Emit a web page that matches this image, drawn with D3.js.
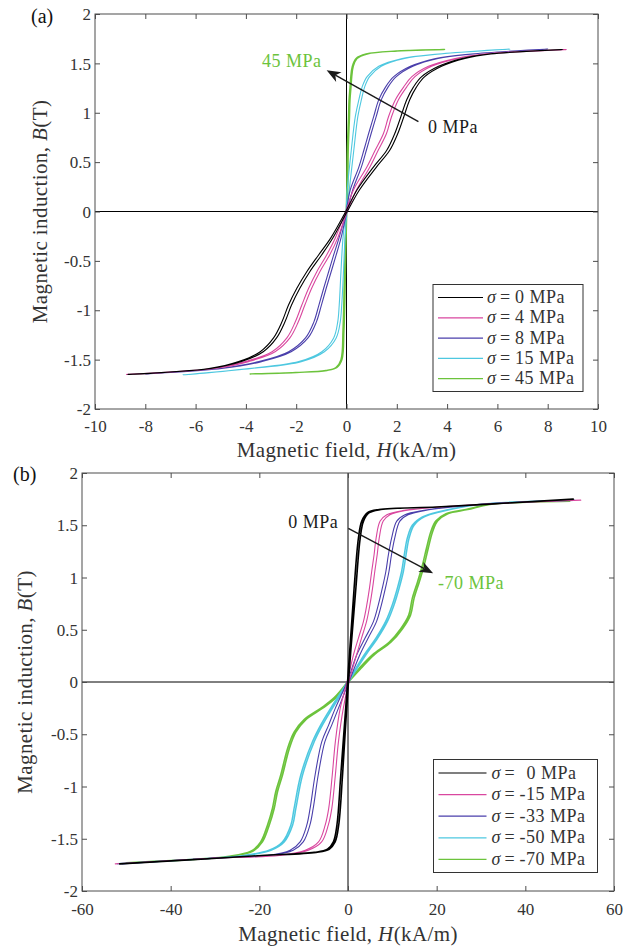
<!DOCTYPE html>
<html>
<head>
<meta charset="utf-8">
<script src="https://cdn.jsdelivr.net/npm/d3@7"></script>
<style>
  body { margin: 0; background: #fff; }
  svg { display: block; }
</style>
</head>
<body>
<svg id="chart" width="636" height="948"></svg>
<script>
// ---- data ----
const colors = ["#000000", "#d9479f", "#4a3fab", "#4ec8e0", "#6cc33c"];
const aLabels = ["0", "4", "8", "15", "45"];
const bLabels = ["0", "-15", "-33", "-50", "-70"];
const aXTicks = [-10, -8, -6, -4, -2, 0, 2, 4, 6, 8, 10];
const bXTicks = [-60, -40, -20, 0, 20, 40, 60];
const yTicks = [-2, -1.5, -1, -0.5, 0, 0.5, 1, 1.5, 2];

// panel (a): B levels (T) and H (kA/m) of the ascending / descending branches
const aB = [
  [-1.65, -1.59, -1.52, -1.42, -1.28, -1.12, -0.95, -0.78, -0.61, -0.44, -0.27, 0, 0.22, 0.45, 0.62, 0.79, 0.96, 1.13, 1.26, 1.365, 1.47, 1.55, 1.595, 1.64],
  [-1.65, -1.59, -1.52, -1.42, -1.28, -1.12, -0.95, -0.78, -0.61, -0.44, -0.27, 0, 0.22, 0.45, 0.62, 0.79, 0.96, 1.13, 1.26, 1.365, 1.47, 1.55, 1.595, 1.64],
  [-1.645, -1.59, -1.52, -1.42, -1.28, -1.12, -0.95, -0.78, -0.61, -0.44, -0.27, 0, 0.22, 0.45, 0.62, 0.79, 0.96, 1.13, 1.26, 1.365, 1.47, 1.55, 1.595, 1.645],
  [-1.655, -1.59, -1.52, -1.42, -1.28, -1.12, -0.95, -0.61, -0.27, 0, 0.22, 0.62, 0.96, 1.13, 1.26, 1.365, 1.47, 1.55, 1.595, 1.645],
  [-1.645, -1.63, -1.61, -1.58, -1.5, -1.2, -0.6, 0, 0.22, 0.62, 0.96, 1.13, 1.26, 1.365, 1.47, 1.55, 1.595, 1.625, 1.64]
];
const aUp = [
  [-8.7, -5.39, -4.17, -3.31, -2.78, -2.45, -2.19, -1.86, -1.46, -0.99, -0.55, 0.03, 0.52, 1.19, 1.72, 2.04, 2.28, 2.51, 2.78, 3.11, 3.78, 4.71, 5.74, 8.6],
  [-8.75, -5.26, -3.90, -2.84, -2.25, -1.92, -1.66, -1.39, -1.06, -0.67, -0.35, 0.03, 0.40, 0.93, 1.26, 1.59, 1.79, 2.06, 2.39, 2.72, 3.38, 4.44, 5.55, 8.75],
  [-8.0, -4.96, -3.38, -2.20, -1.53, -1.20, -1.00, -0.81, -0.61, -0.41, -0.22, 0.02, 0.25, 0.59, 0.79, 0.98, 1.18, 1.38, 1.65, 1.98, 2.64, 3.64, 5.04, 8.0],
  [-6.5, -3.78, -1.80, -0.88, -0.41, -0.25, -0.19, -0.12, -0.06, 0.02, 0.11, 0.29, 0.45, 0.59, 0.72, 0.92, 1.38, 2.31, 3.74, 6.5],
  [-3.83, -1.98, -0.78, -0.38, -0.18, -0.10, -0.04, 0.01, 0.05, 0.07, 0.12, 0.14, 0.18, 0.21, 0.27, 0.42, 0.82, 2.02, 3.9]
];
const aDn = [
  [-8.7, -5.47, -4.29, -3.43, -2.90, -2.57, -2.31, -1.98, -1.58, -1.11, -0.63, -0.03, 0.42, 1.07, 1.60, 1.92, 2.16, 2.39, 2.66, 2.99, 3.66, 4.59, 5.66, 8.6],
  [-8.75, -5.34, -4.02, -2.96, -2.37, -2.04, -1.78, -1.51, -1.18, -0.79, -0.45, -0.03, 0.28, 0.81, 1.14, 1.47, 1.67, 1.94, 2.27, 2.60, 3.26, 4.32, 5.45, 8.75],
  [-8.0, -5.04, -3.48, -2.30, -1.63, -1.30, -1.10, -0.91, -0.71, -0.51, -0.30, -0.02, 0.15, 0.49, 0.69, 0.88, 1.08, 1.28, 1.55, 1.88, 2.54, 3.54, 4.96, 8.0],
  [-6.5, -3.88, -1.90, -0.98, -0.51, -0.35, -0.29, -0.22, -0.14, -0.02, 0.03, 0.19, 0.35, 0.49, 0.62, 0.82, 1.28, 2.21, 3.66, 6.5],
  [-3.83, -2.02, -0.82, -0.42, -0.22, -0.14, -0.08, -0.01, 0.01, 0.03, 0.08, 0.10, 0.14, 0.17, 0.23, 0.38, 0.78, 1.98, 3.9]
];

// panel (b)
const bB = [
  [-1.74, -1.70, -1.66, -1.63, -1.60, -1.53, -1.37, -0.89, 0, 0.9, 1.38, 1.54, 1.62, 1.65, 1.675, 1.71, 1.75],
  [-1.74, -1.685, -1.66, -1.61, -1.53, -1.37, -1.21, -0.89, -0.57, -0.25, 0, 0.26, 0.42, 0.58, 0.74, 0.9, 1.06, 1.22, 1.38, 1.54, 1.6, 1.64, 1.70, 1.74],
  [-1.74, -1.685, -1.66, -1.61, -1.53, -1.37, -1.21, -0.89, -0.57, -0.41, -0.25, 0, 0.26, 0.42, 0.58, 0.74, 0.9, 1.06, 1.22, 1.38, 1.54, 1.6, 1.64, 1.70, 1.74],
  [-1.74, -1.685, -1.66, -1.61, -1.53, -1.37, -1.21, -0.89, -0.57, -0.41, -0.25, 0, 0.26, 0.42, 0.58, 0.74, 0.9, 1.06, 1.22, 1.38, 1.5, 1.58, 1.63, 1.70, 1.74],
  [-1.73, -1.69, -1.67, -1.62, -1.53, -1.37, -1.21, -1.05, -0.89, -0.64, -0.48, -0.36, -0.25, -0.15, 0, 0.13, 0.26, 0.38, 0.51, 0.64, 0.8, 0.96, 1.12, 1.28, 1.44, 1.54, 1.61, 1.65, 1.70, 1.73]
];
const bUp = [
  [-51.5, -35, -19.5, -7.2, -4.24, -2.9, -2.1, -1.23, 0.1, 1.78, 2.76, 3.5, 4.8, 7.4, 20, 35, 50.8],
  [-52.5, -30, -15.5, -8.95, -5.95, -4.45, -3.65, -2.85, -2.15, -1.05, 0.2, 1.93, 3.05, 4.19, 4.95, 5.55, 6.05, 6.59, 7.05, 7.95, 9.45, 12.7, 30, 52.5],
  [-51, -30, -17.8, -12.35, -10.1, -8.6, -7.85, -6.72, -5.21, -3.65, -2.15, 0.2, 2.68, 4.55, 6.45, 7.55, 8.45, 9.25, 9.82, 10.55, 11.7, 13.55, 17.2, 30, 51],
  [-52, -30, -23.0, -17.4, -14.4, -12.5, -11.76, -10.25, -7.6, -5.74, -3.5, 0.1, 4.04, 6.7, 8.9, 10.4, 11.55, 12.5, 13.1, 13.8, 14.9, 17.2, 20.9, 30, 51],
  [-50, -32, -26.8, -21.5, -19.3, -17.77, -16.65, -15.9, -14.77, -13.26, -11.76, -9.5, -5.7, -2.7, 0.1, 2.9, 5.9, 9.67, 12.3, 14.1, 14.9, 16.1, 17.2, 18.1, 19.1, 20.2, 22.5, 27.0, 32, 50]
];
const bDn = [
  [-51.5, -35, -19.5, -7.6, -4.64, -3.3, -2.5, -1.63, -0.1, 1.38, 2.36, 3.1, 4.4, 7.0, 20, 35, 50.8],
  [-52.5, -30, -15.9, -9.65, -6.65, -5.15, -4.35, -3.55, -2.85, -1.75, -0.2, 1.23, 2.35, 3.49, 4.25, 4.85, 5.35, 5.89, 6.35, 7.25, 8.75, 12.3, 30, 52.5],
  [-51, -30, -18.2, -13.05, -10.8, -9.3, -8.55, -7.42, -5.91, -4.35, -2.85, -0.2, 1.98, 3.85, 5.75, 6.85, 7.75, 8.55, 9.12, 9.85, 11.0, 12.85, 16.8, 30, 51],
  [-52, -30, -23.4, -17.8, -14.8, -12.9, -12.16, -10.65, -8.0, -6.14, -3.9, -0.1, 3.64, 6.3, 8.5, 10.0, 11.15, 12.1, 12.7, 13.4, 14.5, 16.8, 20.5, 30, 51],
  [-50, -32, -27.2, -21.9, -19.7, -18.17, -17.05, -16.3, -15.17, -13.66, -12.16, -9.9, -6.1, -3.1, -0.1, 2.5, 5.5, 9.27, 11.9, 13.7, 14.5, 15.7, 16.8, 17.7, 18.7, 19.8, 22.1, 26.6, 32, 50]
];

// annotations: [H, B] in data units
const aArrow = [[2.86, 0.91], [-0.79, 1.43]];
const bArrow = [[0.07, 1.47], [19.2, 1.04]];

const svg = d3.select("#chart");
const serif = "'Liberation Serif', 'Times New Roman', 'FreeSerif'";
const axisColor = "#4d4d4d";

function drawPanel(p) {
  const g = svg.append("g");
  const x = d3.scaleLinear().domain(p.xDomain).range([p.left, p.right]);
  const y = d3.scaleLinear().domain([-2, 2]).range([p.bottom, p.top]);

  // zero lines
  g.append("line").attr("x1", x(0)).attr("x2", x(0)).attr("y1", p.top).attr("y2", p.bottom)
    .attr("stroke", "#000").attr("stroke-width", 1);
  g.append("line").attr("x1", p.left).attr("x2", p.right).attr("y1", y(0)).attr("y2", y(0))
    .attr("stroke", "#000").attr("stroke-width", 1);

  // hysteresis loops, last series underneath
  const loop = d3.line().x(d => x(d[0])).y(d => y(d[1])).curve(d3.curveCatmullRomClosed.alpha(0.5));
  for (let i = p.B.length - 1; i >= 0; i--) {
    const b = p.B[i], up = p.up[i], dn = p.dn[i];
    const pts = b.map((v, k) => [up[k], v]);
    for (let k = b.length - 2; k >= 1; k--) pts.push([dn[k], b[k]]);
    g.append("path").attr("d", loop(pts)).attr("fill", "none")
      .attr("stroke", colors[i]).attr("stroke-width", p.lw[i]).attr("stroke-linejoin", "round");
  }

  // box + inward ticks
  g.append("rect").attr("x", p.left).attr("y", p.top)
    .attr("width", p.right - p.left).attr("height", p.bottom - p.top)
    .attr("fill", "none").attr("stroke", axisColor).attr("stroke-width", 1);

  const fmt = d => String(d);
  const bottomAxis = g.append("g").attr("transform", `translate(0,${p.bottom})`)
    .call(d3.axisBottom(x).tickValues(p.xTicks).tickFormat(fmt).tickSizeInner(-5).tickSizeOuter(0));
  const topAxis = g.append("g").attr("transform", `translate(0,${p.top})`)
    .call(d3.axisTop(x).tickValues(p.xTicks).tickFormat("").tickSizeInner(-5).tickSizeOuter(0));
  const leftAxis = g.append("g").attr("transform", `translate(${p.left},0)`)
    .call(d3.axisLeft(y).tickValues(yTicks).tickFormat(fmt).tickSizeInner(-5).tickSizeOuter(0).tickPadding(4));
  const rightAxis = g.append("g").attr("transform", `translate(${p.right},0)`)
    .call(d3.axisRight(y).tickValues(yTicks).tickFormat("").tickSizeInner(-5).tickSizeOuter(0));
  [bottomAxis, topAxis, leftAxis, rightAxis].forEach(a => {
    a.select(".domain").remove();
    a.selectAll(".tick line").attr("stroke", axisColor);
    a.selectAll("text").attr("font-family", serif).attr("font-size", 17).attr("fill", "#333");
  });
  bottomAxis.selectAll("text").attr("dy", null).attr("y", p.xTickBase);
  leftAxis.selectAll("text").attr("dy", "0.33em");

  // axis titles
  const xt = g.append("text").attr("x", (p.left + p.right) / 2).attr("y", p.xTitleY)
    .attr("text-anchor", "middle").attr("font-family", serif).attr("font-size", 21)
    .attr("fill", "#333").attr("letter-spacing", 0.4);
  xt.append("tspan").text("Magnetic field, ");
  xt.append("tspan").attr("font-style", "italic").text("H");
  xt.append("tspan").text("(kA/m)");
  const yt = g.append("text")
    .attr("transform", `translate(${p.yTitleX},${(p.top + p.bottom) / 2}) rotate(-90)`)
    .attr("text-anchor", "middle").attr("font-family", serif).attr("font-size", 21)
    .attr("fill", "#333").attr("letter-spacing", 0.4);
  yt.append("tspan").text("Magnetic induction, ");
  yt.append("tspan").attr("font-style", "italic").text("B");
  yt.append("tspan").text("(T)");

  // panel tag
  g.append("text").attr("x", p.tag[0]).attr("y", p.tag[1]).attr("font-family", serif)
    .attr("font-size", 20).attr("fill", "#111").text(p.tagText);

  // legend
  const L = p.legend;
  const lg = g.append("g").attr("transform", `translate(${L.x},${L.y})`);
  lg.append("rect").attr("width", L.w).attr("height", L.h).attr("fill", "#fff")
    .attr("stroke", "#333").attr("stroke-width", 1);
  p.labels.forEach((lab, i) => {
    const ry = L.row0 + i * L.step;
    lg.append("line").attr("x1", L.l0).attr("x2", L.l1).attr("y1", ry).attr("y2", ry)
      .attr("stroke", colors[i]).attr("stroke-width", 1.2);
    const t = lg.append("text").attr("y", ry + 5.5).attr("font-family", serif)
      .attr("font-size", 18).attr("fill", "#333");
    t.append("tspan").attr("x", L.sx).attr("font-style", "italic").text("σ");
    t.append("tspan").attr("x", L.ex).text("=");
    t.append("tspan").attr("x", lab.startsWith("-") ? L.vx - 7 : L.vx).attr("letter-spacing", 0.5).text(lab + " MPa");
  });

  // arrow
  const s = [x(p.arrow[0][0]), y(p.arrow[0][1])];
  const e = [x(p.arrow[1][0]), y(p.arrow[1][1])];
  const len = Math.hypot(e[0] - s[0], e[1] - s[1]);
  const ux = (e[0] - s[0]) / len, uy = (e[1] - s[1]) / len;
  const nx = -uy, ny = ux;
  const HL = 14, HW = 5.5, notch = 10;
  g.append("line").attr("x1", s[0]).attr("y1", s[1])
    .attr("x2", e[0] - ux * notch).attr("y2", e[1] - uy * notch)
    .attr("stroke", "#1a1a1a").attr("stroke-width", 1.4);
  const head = [
    [e[0], e[1]],
    [e[0] - ux * HL + nx * HW, e[1] - uy * HL + ny * HW],
    [e[0] - ux * notch, e[1] - uy * notch],
    [e[0] - ux * HL - nx * HW, e[1] - uy * HL - ny * HW]
  ];
  g.append("path").attr("d", "M" + head.join("L") + "Z").attr("fill", "#1a1a1a");

  // annotation texts
  p.notes.forEach(n => {
    g.append("text").attr("x", x(n.h)).attr("y", y(n.b)).attr("font-family", serif)
      .attr("font-size", 18).attr("letter-spacing", 0.5).attr("fill", n.color).text(n.text);
  });
}

drawPanel({
  xDomain: [-10, 10], xTicks: aXTicks, left: 95, right: 598, top: 14, bottom: 409,
  B: aB, up: aUp, dn: aDn, labels: aLabels, lw: [1.1, 1.1, 1.1, 1.1, 1.4],
  xTickBase: 23, xTitleY: 457, yTitleX: 47, tag: [31, 23], tagText: "(a)",
  legend: { x: 433, y: 284.5, w: 150, h: 107, row0: 13, step: 20.3, l0: 5, l1: 50, sx: 54, ex: 67, vx: 82 },
  arrow: aArrow,
  notes: [
    { h: -3.36, b: 1.46, text: "45 MPa", color: "#6cc33c" },
    { h: 3.24, b: 0.795, text: "0 MPa", color: "#1a1a1a" }
  ]
});

drawPanel({
  xDomain: [-60, 60], xTicks: bXTicks, left: 82, right: 614, top: 473, bottom: 891,
  B: bB, up: bUp, dn: bDn, labels: bLabels, lw: [1.6, 1.1, 1.1, 1.5, 1.6],
  xTickBase: 24, xTitleY: 941, yTitleX: 32, tag: [13, 481], tagText: "(b)",
  legend: { x: 433.5, y: 759.5, w: 164, h: 113, row0: 13.5, step: 21.6, l0: 5, l1: 53, sx: 58, ex: 71, vx: 93 },
  arrow: bArrow,
  notes: [
    { h: -13.5, b: 1.474, text: "0 MPa", color: "#1a1a1a" },
    { h: 20.3, b: 0.89, text: "-70 MPa", color: "#6cc33c" }
  ]
});
</script>
</body>
</html>
